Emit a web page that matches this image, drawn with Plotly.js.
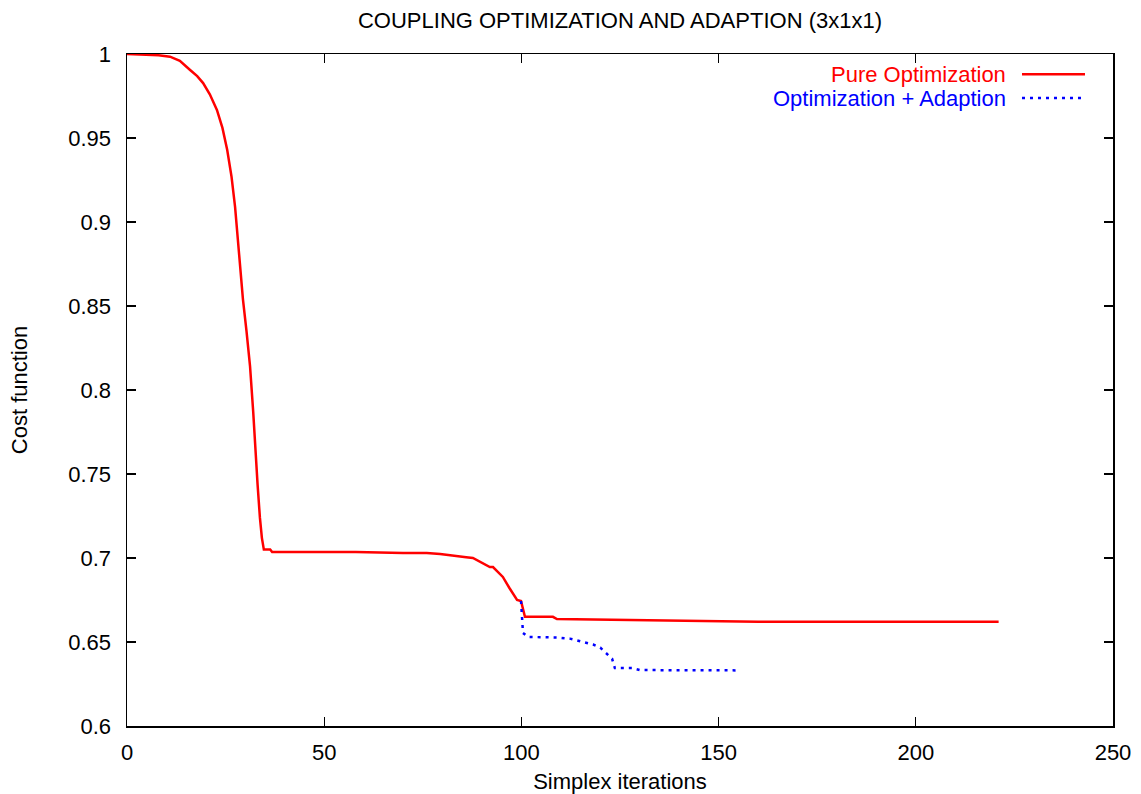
<!DOCTYPE html>
<html>
<head>
<meta charset="utf-8">
<script src="https://cdn.plot.ly/plotly-3.0.1.min.js"></script>
<style>html,body{margin:0;padding:0;background:#fff;}#chart{width:1141px;height:794px;}</style>
</head>
<body>
<div id="chart"></div>
<script>
// Series names
const seriesNames = ["Pure Optimization", "Optimization + Adaption"];

// Pure Optimization (red, solid)
const pureX = [0, 5, 8, 10.9, 13.4, 16, 17.8, 19.3, 21, 22.8, 24.2, 25.4, 26.5, 27.4, 28.1, 29.4, 30.3, 31.2, 32, 32.5, 33.1, 33.7, 34.2, 34.7, 35.5, 36.3, 36.8, 45, 58, 70, 76, 79.4, 82, 84.4, 86, 87.7, 89, 90.5, 92, 92.8, 94, 95.3, 97, 98.9, 99.9, 100.9, 104, 108, 109, 115, 125, 133.4, 145, 160, 180, 200, 221];
const pureY = [1, 0.9996, 0.9992, 0.9984, 0.996, 0.9905, 0.9868, 0.9827, 0.976, 0.9667, 0.956, 0.943, 0.927, 0.909, 0.889, 0.854, 0.835, 0.814, 0.787, 0.764, 0.744, 0.724, 0.712, 0.705, 0.7052, 0.705, 0.7035, 0.7035, 0.7035, 0.703, 0.703, 0.7024, 0.7018, 0.7012, 0.7005, 0.700, 0.6985, 0.6965, 0.6946, 0.6946, 0.6915, 0.6887, 0.682, 0.675, 0.6744, 0.665, 0.665, 0.665, 0.6637, 0.6635, 0.6633, 0.6627, 0.6625, 0.6621, 0.6621, 0.6621, 0.6621];

// Optimization + Adaption (blue, dotted)
const adaptX = [99.9, 100.2, 100.4, 101.7, 104, 106.5, 109, 112.3, 114, 116, 118.2, 120, 121.6, 123, 123.7, 126, 128, 130, 134, 137.7, 145, 154.7];
const adaptY = [0.6744, 0.666, 0.6554, 0.653, 0.653, 0.653, 0.6527, 0.652, 0.651, 0.6494, 0.6485, 0.6467, 0.6432, 0.640, 0.6345, 0.6345, 0.6345, 0.6333, 0.6332, 0.6331, 0.6331, 0.6331];

const xTicks = [0, 50, 100, 150, 200, 250];
const yTicks = [0.6, 0.65, 0.7, 0.75, 0.8, 0.85, 0.9, 0.95, 1];
const yTickText = ["0.6", "0.65", "0.7", "0.75", "0.8", "0.85", "0.9", "0.95", "1"];

const colors = ["#ff0000", "#0000ff"];
const FONT = "Liberation Sans, Arial, Helvetica, sans-serif";
const FS = 22;
const DOT = "3px,5px";

const traces = [
  {x: pureX, y: pureY, type: "scatter", mode: "lines", name: seriesNames[0],
   line: {color: colors[0], width: 2.5}, showlegend: false},
  {x: adaptX, y: adaptY, type: "scatter", mode: "lines", name: seriesNames[1],
   line: {color: colors[1], width: 2.5, dash: DOT}, showlegend: false}
];

const axisCommon = {
  showline: true, linecolor: "#000", linewidth: 1.5, mirror: "ticks",
  ticks: "inside", ticklen: 9, tickwidth: 1.2, tickcolor: "#000",
  showgrid: false, zeroline: false,
  tickfont: {family: FONT, size: FS, color: "#000"}
};

const layout = {
  width: 1141, height: 794,
  margin: {l: 127, r: 28, t: 54, b: 68},
  paper_bgcolor: "#fff", plot_bgcolor: "#fff",
  title: {text: "COUPLING OPTIMIZATION AND ADAPTION (3x1x1)", font: {family: FONT, size: FS, color: "#000"},
          xref: "paper", x: 0.5, xanchor: "center", yref: "container", y: 0.975, yanchor: "middle"},
  xaxis: Object.assign({}, axisCommon, {
    range: [0, 250], tickvals: xTicks, ticktext: xTicks.map(String), ticklabelstandoff: 6,
    title: {text: "Simplex iterations", font: {family: FONT, size: FS, color: "#000"}, standoff: 9}
  }),
  yaxis: Object.assign({}, axisCommon, {
    range: [0.6, 1], tickvals: yTicks, ticktext: yTickText, ticklabelstandoff: 10,
    title: {text: "Cost function", font: {family: FONT, size: FS, color: "#000"}, standoff: 34}
  }),
  annotations: [
    {xref: "paper", yref: "paper", x: 0.8935, y: 0.970, xanchor: "right", yanchor: "middle",
     text: seriesNames[0], showarrow: false, font: {family: FONT, size: FS, color: colors[0]}},
    {xref: "paper", yref: "paper", x: 0.8935, y: 0.9345, xanchor: "right", yanchor: "middle",
     text: seriesNames[1], showarrow: false, font: {family: FONT, size: FS, color: colors[1]}}
  ],
  shapes: [
    {type: "line", xref: "paper", yref: "paper", x0: 0.9077, x1: 0.9716, y0: 0.970, y1: 0.970,
     line: {color: colors[0], width: 2.5}},
    {type: "line", xref: "paper", yref: "paper", x0: 0.9077, x1: 0.9716, y0: 0.9345, y1: 0.9345,
     line: {color: colors[1], width: 2.5, dash: DOT}}
  ],
  showlegend: false
};

Plotly.newPlot("chart", traces, layout, {displayModeBar: false, staticPlot: true});
</script>
</body>
</html>
